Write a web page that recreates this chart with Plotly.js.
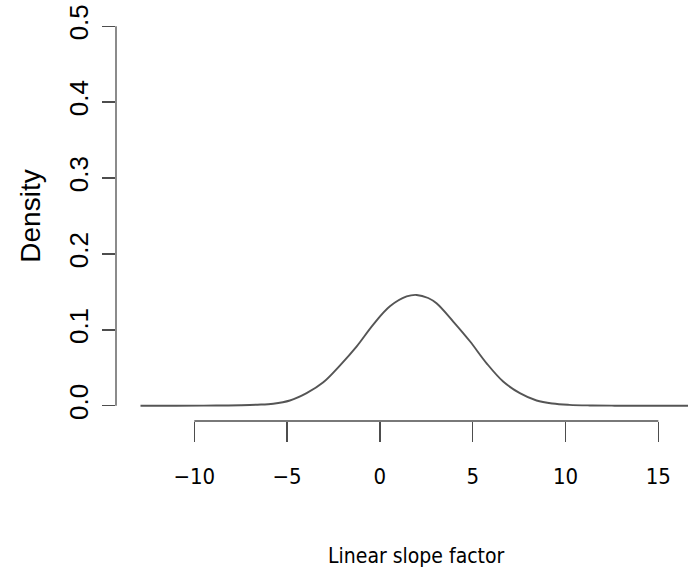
<!DOCTYPE html>
<html>
<head>
<meta charset="utf-8">
<script src="https://cdn.plot.ly/plotly-3.0.1.min.js"></script>
<style>html,body{margin:0;padding:0;background:#fff;}#chart{width:688px;height:576px;}</style>
</head>
<body>
<div id="chart"></div>
<script>
// Density curve
const slopeX = [-12.9, -11, -9.5, -8.5, -7.5, -6.6, -5.75, -4.85, -3.95, -3.05, -2.16, -1.26, -0.36, 0.54, 1.44, 1.98, 2.6, 3.05, 3.95, 4.85, 5.75, 6.64, 7.54, 8.44, 9.3, 10.2, 11.3, 12.5, 14, 16.6];
const densityY = [0, 0.0001, 0.0002, 0.0004, 0.0008, 0.0015, 0.0028, 0.007, 0.0167, 0.031, 0.053, 0.078, 0.107, 0.131, 0.144, 0.146, 0.142, 0.135, 0.111, 0.085, 0.056, 0.032, 0.0167, 0.007, 0.003, 0.0013, 0.0005, 0.0002, 0.0001, 0];
const xTicks = [-10, -5, 0, 5, 10, 15];
const xTickText = ["\u221210", "\u22125", "0", "5", "10", "15"];
const yTicks = [0, 0.1, 0.2, 0.3, 0.4, 0.5];
const yTickText = ["0.0", "0.1", "0.2", "0.3", "0.4", "0.5"];
const xTitle = "Linear slope factor";
const yTitle = "Density";

const axisCol = "#4d4d4d";
const narrow = "'DejaVu Sans Condensed', 'Liberation Sans', sans-serif";
const trace = {
  x: slopeX, y: densityY, type: "scatter", mode: "lines",
  line: {color: "#555555", width: 1.9, shape: "spline", smoothing: 1.0},
  hoverinfo: "skip"
};

const layout = {
  width: 688, height: 576,
  margin: {l: 116, r: 0, t: 11, b: 155},
  paper_bgcolor: "#ffffff", plot_bgcolor: "#ffffff",
  showlegend: false,
  xaxis: {
    range: [-14.22, 16.6], showgrid: false, zeroline: false, showline: false,
    tickmode: "array", tickvals: xTicks, ticktext: xTickText,
    ticks: "outside", ticklen: 20, tickwidth: 1.3, tickcolor: axisCol,
    tickfont: {family: narrow, size: 22, color: "#000"},
    ticklabelstandoff: 16
  },
  yaxis: {
    range: [-0.02, 0.52], showgrid: false, zeroline: false, showline: false,
    tickmode: "array", tickvals: yTicks, ticktext: yTickText,
    ticks: "outside", ticklen: 13, tickwidth: 1.3, tickcolor: axisCol,
    tickangle: -90,
    tickfont: {family: "Liberation Sans", size: 26, color: "#000"},
    ticklabelstandoff: 4,
    title: {text: yTitle, font: {family: "Liberation Sans", size: 28, color: "#000"}, standoff: 14}
  },
  shapes: [
    {type: "line", xref: "x", yref: "paper", x0: xTicks[0], x1: xTicks[xTicks.length - 1], y0: 0, y1: 0,
     line: {color: axisCol, width: 1.3}},
    {type: "line", xref: "paper", yref: "y", x0: 0, x1: 0, y0: yTicks[0], y1: yTicks[yTicks.length - 1],
     line: {color: axisCol, width: 1.3}}
  ],
  annotations: [
    {text: xTitle, xref: "paper", yref: "paper", x: 0.5245, y: 0, xanchor: "center", yanchor: "top",
     yshift: -121, showarrow: false, font: {family: narrow, size: 21, color: "#000"}}
  ]
};

Plotly.newPlot("chart", [trace], layout, {displayModeBar: false, staticPlot: true});
</script>
</body>
</html>
